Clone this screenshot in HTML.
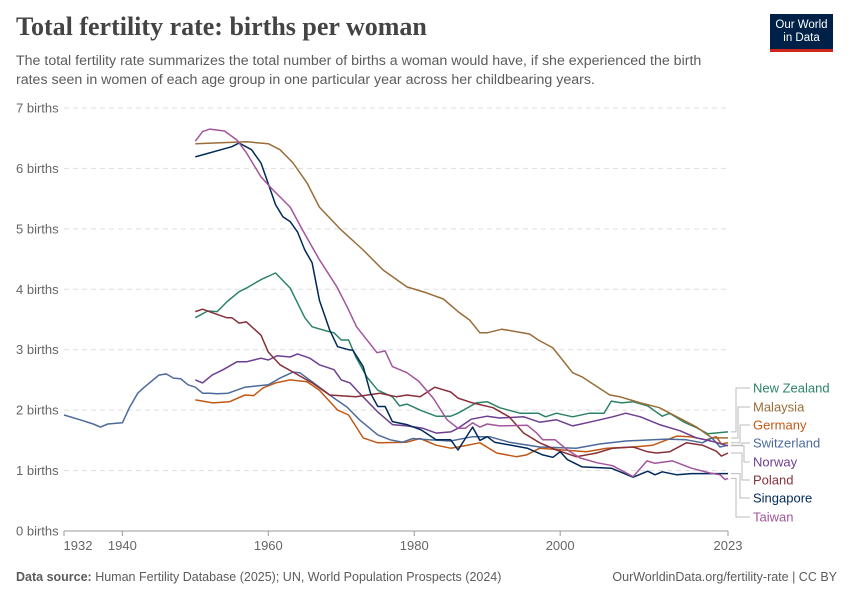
<!DOCTYPE html>
<html><head><meta charset="utf-8">
<style>
body{margin:0;background:#fff;font-family:"Liberation Sans",sans-serif;}
#wrap{position:relative;width:850px;height:600px;overflow:hidden;}
.title{position:absolute;left:16px;top:12px;font-family:"Liberation Serif",serif;font-size:26px;color:#444;font-weight:bold;}
.sub{position:absolute;left:16px;top:52px;width:705px;font-size:14.2px;line-height:19px;color:#5b5b5b;}
.logo{position:absolute;left:770px;top:14px;width:63px;height:38px;background:#002147;color:#fff;font-size:11.5px;line-height:13px;text-align:center;padding-top:5px;box-sizing:border-box;border-bottom:3px solid #ce261e;}
.foot{position:absolute;top:570px;font-size:12.5px;color:#5b5b5b;}
</style></head><body>
<div id="wrap">
<div class="title">Total fertility rate: births per woman</div>
<div class="sub">The total fertility rate summarizes the total number of births a woman would have, if she experienced the birth rates seen in women of each age group in one particular year across her childbearing years.</div>
<div class="logo">Our World<br>in Data</div>
<svg id="svg" width="850" height="600" style="position:absolute;left:0;top:0"></svg>
<div class="foot" style="left:16px"><b>Data source:</b> Human Fertility Database (2025); UN, World Population Prospects (2024)</div>
<div class="foot" style="right:13px">OurWorldinData.org/fertility-rate | CC BY</div>
</div>
<script>
const yTicks=[0,1,2,3,4,5,6,7];
const xTicks=[1932,1940,1960,1980,2000,2023];
const names=["New Zealand","Malaysia","Germany","Switzerland","Norway","Poland","Singapore","Taiwan"];
const colors=["#2c8465","#996d39","#c05917","#4c6a9c","#6d3e91","#883039","#00295b","#a2559c"];
const nzYears=[1950,1951.7,1953,1954.3,1956,1957,1959,1961,1963,1965,1966,1968,1969,1970,1971,1972,1973.5,1975,1977,1978,1979,1981,1983,1985,1986,1988.5,1990,1991.7,1994.5,1997,1998,1999.5,2001.7,2004,2006,2007,2008.4,2010,2012,2014,2015,2017,2018.7,2020.2,2023];
const nzVals=[3.53,3.64,3.63,3.79,3.96,4.02,4.16,4.27,4.02,3.53,3.38,3.31,3.28,3.16,3.16,2.88,2.55,2.33,2.22,2.07,2.1,1.99,1.9,1.9,1.95,2.12,2.14,2.04,1.95,1.95,1.89,1.95,1.89,1.95,1.95,2.15,2.12,2.14,2.07,1.9,1.95,1.8,1.71,1.61,1.64];
const myYears=[1950,1957,1960,1961.6,1963.4,1965.3,1967,1970,1973,1975.7,1979,1981.7,1984,1986,1987.6,1989,1990,1992,1995.8,1997,1999,2001.7,2003,2006.8,2008.2,2011,2013.6,2016,2018.7,2020.8,2023];
const myVals=[6.41,6.44,6.41,6.31,6.09,5.76,5.36,4.98,4.65,4.32,4.04,3.94,3.84,3.63,3.49,3.28,3.28,3.34,3.26,3.16,3.03,2.62,2.55,2.25,2.22,2.12,2.04,1.89,1.72,1.54,1.54];
const deYears=[1950,1952.4,1954.7,1956.8,1958,1959.3,1961,1963,1965.3,1967,1969.5,1971,1973,1975,1979,1980.8,1983,1985,1986,1989,1991.3,1994,1995.4,1997.2,2000.4,2003.6,2006.4,2010,2012.7,2016,2017.8,2020,2021.4,2022.1,2023];
const deVals=[2.17,2.12,2.14,2.25,2.24,2.37,2.45,2.5,2.47,2.33,2.0,1.92,1.54,1.46,1.47,1.53,1.42,1.37,1.39,1.46,1.29,1.23,1.26,1.37,1.34,1.31,1.37,1.39,1.42,1.57,1.56,1.51,1.56,1.44,1.46];
const chYears=[1932,1934.2,1936,1937,1938,1940,1941,1942.1,1943,1945,1946,1947,1948,1949,1950,1951,1952,1953,1954.5,1956.8,1960,1961.6,1963.4,1964.3,1966,1969,1970.8,1972.5,1975,1976.7,1978.4,1979.8,1982,1985,1988,1990.3,1993,1997.2,2002.2,2005.4,2009,2012.7,2014.6,2017.3,2019.5,2020.8,2021.9,2023];
const chVals=[1.92,1.84,1.77,1.72,1.77,1.79,2.05,2.28,2.38,2.58,2.6,2.53,2.52,2.42,2.38,2.28,2.28,2.27,2.28,2.38,2.42,2.53,2.63,2.62,2.47,2.2,2.05,1.84,1.59,1.51,1.47,1.53,1.51,1.49,1.56,1.56,1.47,1.39,1.37,1.44,1.49,1.51,1.52,1.51,1.46,1.54,1.39,1.42];
const noYears=[1950,1951,1952.3,1953.8,1955.7,1957,1959,1960,1961.2,1963,1964,1965.7,1967,1969,1970,1971.2,1972.5,1975,1977,1979,1981.2,1983,1985,1986,1987.8,1990,1991.7,1995,1997.2,1999.5,2001.7,2004,2007.2,2009,2011,2013.6,2016.4,2018.7,2021,2023];
const noVals=[2.5,2.45,2.58,2.67,2.8,2.8,2.86,2.83,2.9,2.88,2.93,2.86,2.75,2.67,2.5,2.45,2.28,1.97,1.76,1.74,1.7,1.62,1.64,1.7,1.85,1.9,1.87,1.89,1.8,1.84,1.74,1.8,1.89,1.95,1.89,1.76,1.66,1.54,1.48,1.41];
const plYears=[1950,1951,1952.4,1954.3,1955,1956,1957,1959,1960,1961.6,1963.4,1966,1968.4,1972,1975.3,1977.6,1979,1980.8,1982.8,1985,1986,1988,1990.8,1993,1995,1997.2,1999.5,2002.2,2005,2007.2,2010,2012,2013.2,2015,2017.3,2019.5,2021.4,2022.1,2023];
const plVals=[3.63,3.67,3.61,3.53,3.53,3.44,3.46,3.24,2.96,2.75,2.63,2.45,2.25,2.22,2.28,2.22,2.25,2.22,2.38,2.3,2.2,2.12,2.04,1.89,1.62,1.46,1.34,1.23,1.29,1.37,1.39,1.31,1.29,1.31,1.46,1.42,1.32,1.24,1.29];
const sgYears=[1950,1955,1956,1957.7,1959,1961,1962,1963,1964,1965,1966,1967,1968.4,1969.5,1971,1971.6,1973,1974,1975,1976,1977,1979,1981,1983,1985,1986,1988,1989,1990,1991,1995.5,1997.6,1999,2000,2001,2003,2007,2010,2012,2013,2014,2016,2018,2023];
const sgVals=[6.19,6.36,6.42,6.31,6.09,5.4,5.2,5.12,4.95,4.65,4.44,3.82,3.33,3.05,3.0,2.99,2.72,2.28,2.06,2.06,1.81,1.76,1.67,1.51,1.51,1.34,1.72,1.5,1.56,1.47,1.37,1.26,1.22,1.31,1.18,1.06,1.04,0.89,0.99,0.93,0.98,0.93,0.95,0.95];
const twYears=[1950,1951,1952,1954,1955.7,1957,1959,1960.6,1963,1964.7,1967,1969.4,1970.8,1972.1,1974.9,1976,1977,1979,1980.6,1982.6,1984.5,1986,1987,1988,1989,1990,1991.7,1995.5,1996.8,1997.6,1999.3,2001,2002.7,2005,2007.2,2010,2011.9,2013,2015.4,2018,2020.5,2021.9,2022.6,2023];
const twVals=[6.45,6.61,6.65,6.62,6.47,6.26,5.86,5.65,5.36,4.98,4.49,4.04,3.71,3.38,2.95,2.98,2.72,2.62,2.48,2.2,1.84,1.7,1.7,1.79,1.72,1.77,1.74,1.75,1.62,1.51,1.51,1.34,1.21,1.13,1.08,0.9,1.16,1.12,1.16,1.04,0.96,0.93,0.85,0.87];
const seriesYears=[nzYears,myYears,deYears,chYears,noYears,plYears,sgYears,twYears];
const seriesVals=[nzVals,myVals,deVals,chVals,noVals,plVals,sgVals,twVals];

const X0=64,X1=728,Y0=531,Y7=108;
const x=yr=>X0+(yr-1932)*(X1-X0)/(2023-1932);
const y=v=>Y0-v*(Y0-Y7)/7;
const NS="http://www.w3.org/2000/svg";
const svg=document.getElementById('svg');
function mk(t,a){const e=document.createElementNS(NS,t);for(const k in a)e.setAttribute(k,a[k]);svg.appendChild(e);return e;}
yTicks.forEach(t=>{
  if(t>0){const g=mk('line',{x1:X0,x2:X1,y1:y(t),y2:y(t),stroke:'#dddddd','stroke-dasharray':'5,4'});
  
  }
  const l=mk('text',{x:16,y:y(t)+4.5,'font-size':13,fill:'#666','font-family':'Liberation Sans,sans-serif'});
  l.textContent=t+' births';
  
  
});
const ax=mk('line',{x1:X0,x2:X1,y1:Y0,y2:Y0,stroke:'#999'});


xTicks.forEach(t=>{
  const tk=mk('line',{x1:x(t),x2:x(t),y1:Y0,y2:Y0+5,stroke:'#999'});
  
  
  const l=mk('text',{x:x(t)+(t==1932?14:0),y:Y0+19,'font-size':13,fill:'#666','text-anchor':'middle','font-family':'Liberation Sans,sans-serif'});
  l.textContent=t;
  
  
});
const labelY=[388,407,425,443,462,480,498,517];
const bx=[736,738,740,742,744,742,740,736];
names.forEach((n,i)=>{
  const ys=seriesYears[i],vs=seriesVals[i];
  const p=mk('polyline',{points:ys.map((yr,j)=>x(yr).toFixed(1)+','+y(vs[j]).toFixed(1)).join(' '),fill:'none',stroke:colors[i],'stroke-width':1.5,'stroke-linejoin':'round'});
  
  
  const ey=y(vs[vs.length-1]);
  const c=mk('polyline',{points:`731,${ey} ${bx[i]},${ey} ${bx[i]},${labelY[i]} 750,${labelY[i]}`,fill:'none',stroke:'#bbb','stroke-width':1});
  
  
  const t=mk('text',{x:753,y:labelY[i]+4.5,'font-size':13,fill:colors[i],'font-family':'Liberation Sans,sans-serif'});
  t.textContent=n;
  
  
});
</script>
</body></html>
